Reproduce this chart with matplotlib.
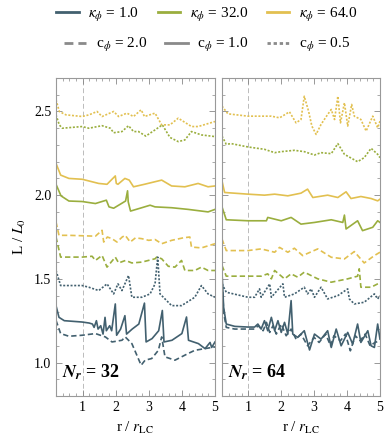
import matplotlib
matplotlib.use('Agg')
import matplotlib.pyplot as plt
from matplotlib.lines import Line2D
from matplotlib.ticker import MultipleLocator

plt.rcParams['font.family'] = ['Liberation Serif', 'DejaVu Serif']
plt.rcParams['mathtext.fontset'] = 'stix'

# colours for kappa_phi
c_k1 = '#42606f'
c_k32 = '#9aae3e'
c_k64 = '#e2c050'

# ---------------- N_r = 32 (left panel) ----------------
r32_k64_c05 = [0.2, 0.3, 0.5, 0.99, 1.2, 1.44, 1.59, 1.94, 2.09, 2.34, 2.54, 2.77, 2.87, 3.19, 3.39, 3.64, 3.89, 4.29, 4.49, 5.0]
L32_k64_c05 = [2.57, 2.50, 2.48, 2.47, 2.48, 2.50, 2.47, 2.50, 2.47, 2.49, 2.47, 2.51, 2.47, 2.49, 2.42, 2.42, 2.46, 2.41, 2.41, 2.44]

r32_k32_c05 = [0.2, 0.3, 0.39, 0.99, 1.19, 1.59, 1.84, 1.94, 2.19, 2.39, 2.54, 2.69, 2.91, 3.19, 3.41, 3.64, 3.89, 4.09, 4.29, 4.59, 5.0]
L32_k32_c05 = [2.48, 2.42, 2.40, 2.41, 2.40, 2.415, 2.40, 2.373, 2.38, 2.415, 2.38, 2.38, 2.353, 2.39, 2.42, 2.345, 2.32, 2.33, 2.38, 2.36, 2.35]

r32_k64_c1 = [0.2, 0.34, 0.59, 0.99, 1.49, 1.74, 1.99, 2.02, 2.07, 2.28, 2.41, 2.54, 2.87, 3.39, 3.69, 4.09, 4.49, 4.79, 5.0]
L32_k64_c1 = [2.19, 2.12, 2.10, 2.095, 2.07, 2.065, 2.115, 2.07, 2.065, 2.10, 2.09, 2.05, 2.065, 2.09, 2.055, 2.05, 2.07, 2.05, 2.055]

r32_k32_c1 = [0.2, 0.35, 0.59, 0.99, 1.39, 1.72, 1.8, 1.94, 2.3, 2.36, 2.38, 2.45, 2.79, 3.04, 3.19, 3.69, 4.19, 4.79, 5.0]
L32_k32_c1 = [2.065, 1.996, 1.965, 1.962, 1.95, 1.97, 1.93, 1.922, 1.965, 2.026, 1.96, 1.905, 1.925, 1.94, 1.93, 1.925, 1.915, 1.90, 1.915]

r32_k64_c2 = [0.2, 0.29, 0.59, 1.39, 1.59, 1.64, 1.75, 1.89, 2.04, 2.2, 2.29, 2.44, 2.6, 2.79, 3.0, 3.19, 3.39, 3.69, 4.04, 4.24, 4.29, 4.59, 5.0]
L32_k64_c2 = [1.84, 1.76, 1.76, 1.755, 1.79, 1.72, 1.75, 1.74, 1.72, 1.75, 1.76, 1.72, 1.745, 1.74, 1.73, 1.735, 1.71, 1.73, 1.745, 1.75, 1.69, 1.685, 1.71]

r32_k32_c2 = [0.2, 0.34, 0.99, 1.29, 1.39, 1.59, 1.74, 1.99, 2.09, 2.3, 2.49, 2.79, 3.19, 3.24, 3.39, 3.59, 3.79, 3.99, 4.09, 4.39, 4.59, 4.79, 5.0]
L32_k32_c2 = [1.75, 1.63, 1.63, 1.635, 1.61, 1.64, 1.57, 1.63, 1.595, 1.61, 1.595, 1.60, 1.62, 1.63, 1.62, 1.575, 1.57, 1.61, 1.55, 1.55, 1.57, 1.55, 1.55]

r32_k1_c05 = [0.2, 0.34, 0.99, 1.19, 1.49, 1.74, 1.94, 2.07, 2.19, 2.39, 2.49, 2.79, 3.04, 3.19, 3.27, 3.34, 3.69, 3.99, 4.39, 4.59, 4.79, 5.0]
L32_k1_c05 = [1.55, 1.46, 1.46, 1.45, 1.43, 1.47, 1.41, 1.47, 1.43, 1.52, 1.39, 1.39, 1.41, 1.47, 1.63, 1.41, 1.34, 1.34, 1.39, 1.46, 1.41, 1.39]

r32_k1_c1 = [0.2, 0.29, 0.45, 0.99, 1.2, 1.3, 1.35, 1.42, 1.47, 1.55, 1.62, 1.68, 1.72, 1.82, 1.88, 1.99, 2.03, 2.15, 2.28, 2.33,
             2.5, 2.7, 2.87, 2.92, 3.1, 3.3, 3.41, 3.46, 3.7, 4.0, 4.14, 4.2, 4.5, 4.7, 4.85, 4.9, 5.0]
L32_k1_c1 = [1.34, 1.27, 1.25, 1.242, 1.236, 1.23, 1.21, 1.25, 1.20, 1.22, 1.17, 1.27, 1.19, 1.22, 1.19, 1.35, 1.163, 1.20, 1.28, 1.17,
             1.20, 1.23, 1.355, 1.123, 1.143, 1.19, 1.311, 1.123, 1.133, 1.173, 1.272, 1.133, 1.113, 1.083, 1.12, 1.09, 1.123]

r32_k1_c2 = [0.2, 0.34, 0.59, 0.99, 1.39, 1.69, 1.89, 2.19, 2.29, 2.49, 2.64, 2.77, 2.89, 3.09, 3.29, 3.39, 3.49, 3.79, 3.99, 4.19, 4.39, 4.69, 5.0]
L32_k1_c2 = [1.252, 1.173, 1.157, 1.163, 1.173, 1.153, 1.123, 1.133, 1.153, 1.113, 1.044, 0.984, 1.014, 1.024, 1.073, 1.153, 1.034, 1.014, 1.034, 1.054, 1.073, 1.083, 1.093]

# ---------------- N_r = 64 (right panel) ----------------
r64_k64_c05 = [0.2, 0.38, 0.99, 1.7, 1.95, 2.25, 2.45, 2.6, 2.7, 2.83, 2.93, 3.06, 3.21, 3.41, 3.52, 3.62, 3.72, 3.8, 3.92, 4.02, 4.14, 4.22, 4.42, 4.58, 4.78, 4.93, 5.0]
L64_k64_c05 = [2.532, 2.486, 2.472, 2.472, 2.462, 2.498, 2.432, 2.452, 2.591, 2.502, 2.413, 2.363, 2.423, 2.482, 2.512, 2.452, 2.591, 2.432, 2.552, 2.413, 2.542, 2.472, 2.452, 2.383, 2.472, 2.403, 2.442]

r64_k32_c05 = [0.2, 0.33, 0.48, 0.99, 1.49, 1.8, 2.0, 2.4, 2.7, 3.01, 3.21, 3.52, 3.72, 3.92, 4.32, 4.52, 4.73, 4.93, 5.0]
L64_k32_c05 = [2.353, 2.304, 2.308, 2.288, 2.274, 2.254, 2.26, 2.268, 2.26, 2.24, 2.254, 2.248, 2.308, 2.244, 2.20, 2.224, 2.28, 2.244, 2.224]

r64_k64_c1 = [0.2, 0.28, 0.99, 1.49, 1.8, 2.2, 2.6, 2.8, 2.96, 3.41, 3.72, 3.97, 4.12, 4.42, 4.73, 4.93, 5.0]
L64_k64_c1 = [2.085, 2.016, 2.006, 2.0, 2.006, 1.996, 2.012, 2.036, 1.986, 2.0, 1.986, 2.02, 1.98, 1.992, 1.98, 1.966, 1.976]

r64_k32_c1 = [0.2, 0.33, 0.99, 1.55, 1.59, 2.0, 2.3, 2.6, 3.01, 3.52, 3.87, 3.92, 3.97, 4.32, 4.47, 4.78, 4.93, 5.0]
L64_k32_c1 = [1.93, 1.853, 1.847, 1.847, 1.867, 1.847, 1.867, 1.827, 1.837, 1.853, 1.837, 1.881, 1.798, 1.847, 1.788, 1.808, 1.847, 1.837]

r64_k64_c2 = [0.2, 0.33, 0.99, 1.39, 1.8, 1.95, 2.2, 2.4, 2.65, 3.11, 3.52, 3.92, 4.22, 4.52, 4.83, 5.0]
L64_k64_c2 = [1.738, 1.669, 1.669, 1.679, 1.659, 1.688, 1.659, 1.683, 1.639, 1.679, 1.629, 1.619, 1.663, 1.595, 1.639, 1.659]

r64_k32_c2 = [0.2, 0.33, 0.99, 1.39, 1.59, 1.7, 1.8, 2.1, 2.3, 2.5, 2.7, 3.11, 3.52, 4.02, 4.32, 4.37, 4.42, 4.73, 4.93, 5.0]
L64_k32_c2 = [1.58, 1.516, 1.516, 1.516, 1.53, 1.50, 1.55, 1.50, 1.53, 1.51, 1.54, 1.50, 1.48, 1.50, 1.516, 1.56, 1.45, 1.45, 1.47, 1.476]

r64_k1_c05 = [0.2, 0.33, 0.99, 1.19, 1.34, 1.39, 1.65, 1.7, 2.05, 2.1, 2.4, 2.7, 2.8, 2.91, 3.01, 3.21, 3.41, 3.72, 4.02, 4.07, 4.22, 4.52, 4.83, 4.93, 5.0]
L64_k1_c05 = [1.47, 1.42, 1.39, 1.39, 1.44, 1.39, 1.47, 1.39, 1.47, 1.39, 1.41, 1.45, 1.41, 1.44, 1.39, 1.45, 1.38, 1.40, 1.44, 1.38, 1.35, 1.36, 1.41, 1.38, 1.40]

r64_k1_c1 = [0.2, 0.25, 0.33, 0.59, 0.99, 1.19, 1.29, 1.39, 1.49, 1.59, 1.7, 1.8, 1.9, 2.0, 2.1, 2.2, 2.3, 2.35, 2.5, 2.7, 2.86,
             3.01, 3.21, 3.41, 3.52, 3.67, 3.82, 4.02, 4.17, 4.32, 4.42, 4.63, 4.73, 4.83, 4.93, 5.0]
L64_k1_c1 = [1.54, 1.33, 1.23, 1.216, 1.212, 1.212, 1.23, 1.20, 1.25, 1.19, 1.27, 1.19, 1.25, 1.18, 1.24, 1.17, 1.37, 1.17, 1.15, 1.19, 1.075,
             1.17, 1.14, 1.19, 1.09, 1.20, 1.10, 1.18, 1.11, 1.23, 1.12, 1.19, 1.10, 1.09, 1.23, 1.14]

r64_k1_c2 = [0.2, 0.25, 0.33, 0.59, 0.99, 1.19, 1.3, 1.45, 1.55, 1.65, 1.75, 1.85, 2.0, 2.15, 2.3, 2.45, 2.6, 2.8, 3.0, 3.15,
             3.35, 3.5, 3.6, 3.8, 3.95, 4.1, 4.25, 4.4, 4.55, 4.7, 4.85, 5.0]
L64_k1_c2 = [1.52, 1.30, 1.21, 1.20, 1.20, 1.20, 1.22, 1.19, 1.24, 1.18, 1.22, 1.17, 1.23, 1.16, 1.20, 1.14, 1.17, 1.10, 1.15, 1.12,
             1.17, 1.10, 1.16, 1.13, 1.17, 1.07, 1.16, 1.13, 1.17, 1.10, 1.12, 1.13]

kappa_labels = ['1.0', '32.0', '64.0']
c_labels = ['2.0', '1.0', '0.5']

dotted = (0, (1.2, 1.0))
dashed = (0, (3.2, 1.8))
styles = {'2.0': dashed, '1.0': '-', '0.5': dotted}

left_series = [
    (r32_k64_c05, L32_k64_c05, c_k64, '0.5'), (r32_k32_c05, L32_k32_c05, c_k32, '0.5'),
    (r32_k64_c1, L32_k64_c1, c_k64, '1.0'), (r32_k32_c1, L32_k32_c1, c_k32, '1.0'),
    (r32_k64_c2, L32_k64_c2, c_k64, '2.0'), (r32_k32_c2, L32_k32_c2, c_k32, '2.0'),
    (r32_k1_c05, L32_k1_c05, c_k1, '0.5'), (r32_k1_c2, L32_k1_c2, c_k1, '2.0'),
    (r32_k1_c1, L32_k1_c1, c_k1, '1.0'),
]
right_series = [
    (r64_k64_c05, L64_k64_c05, c_k64, '0.5'), (r64_k32_c05, L64_k32_c05, c_k32, '0.5'),
    (r64_k64_c1, L64_k64_c1, c_k64, '1.0'), (r64_k32_c1, L64_k32_c1, c_k32, '1.0'),
    (r64_k64_c2, L64_k64_c2, c_k64, '2.0'), (r64_k32_c2, L64_k32_c2, c_k32, '2.0'),
    (r64_k1_c05, L64_k1_c05, c_k1, '0.5'), (r64_k1_c2, L64_k1_c2, c_k1, '2.0'),
    (r64_k1_c1, L64_k1_c1, c_k1, '1.0'),
]

fig = plt.figure(figsize=(3.9, 4.45), dpi=100)
ax1 = fig.add_axes([0.1436, 0.1101, 0.4077, 0.7146])
ax2 = fig.add_axes([0.5692, 0.1101, 0.4051, 0.7146])

for ax, series, nr in [(ax1, left_series, '32'), (ax2, right_series, '64')]:
    ax.axvline(1.0, color='#bbbbbb', lw=0.7, ls=(0, (5, 3)), zorder=1)
    for r, L, col, c in series:
        ax.plot(r, L, color=col, ls=styles[c], lw=1.2, zorder=2)
    ax.set_xlim(0.2, 5.0)
    ax.set_ylim(0.8, 2.7)
    ax.xaxis.set_major_locator(MultipleLocator(1))
    ax.xaxis.set_minor_locator(MultipleLocator(0.2))
    ax.yaxis.set_major_locator(MultipleLocator(0.5))
    ax.yaxis.set_minor_locator(MultipleLocator(0.1))
    ax.tick_params(which='both', direction='in', top=True, right=True, colors='#888888',
                   labelcolor='black', labelsize=10)
    ax.tick_params(which='major', length=4, width=0.6)
    ax.tick_params(which='minor', length=2, width=0.5)
    for s in ax.spines.values():
        s.set_color('#999999')
        s.set_linewidth(0.8)
    ax.set_xlabel(r'r / $r_{\rm LC}$', fontsize=11, labelpad=4)
    ax.text(0.04, 0.045, r'$\mathbfit{N}_{\mathbfit{r}}$ = ' + nr, transform=ax.transAxes,
            fontsize=13, fontweight='bold', ha='left', va='bottom')

ax1.set_yticks([1.0, 1.5, 2.0, 2.5])
ax1.set_yticklabels(['1.0', '1.5', '2.0', '2.5'])
ax1.set_ylabel(r'L / $L_0$', fontsize=11, labelpad=4)
ax2.tick_params(labelleft=False)

h1 = [Line2D([], [], color=c, lw=2) for c in [c_k1, c_k32, c_k64]]
l1 = [r'$\kappa_\phi$ = ' + k for k in kappa_labels]
h2 = [Line2D([], [], color='#8a8a8a', lw=2, ls=styles[c]) for c in c_labels]
l2 = [r'c$_\phi$ = ' + c for c in c_labels]
fig.legend(h1, l1, loc='center', bbox_to_anchor=(0.53, 0.967), ncol=3, frameon=False,
           fontsize=11, handlelength=1.5, handletextpad=0.6, columnspacing=1.2)
fig.legend(h2, l2, loc='center', bbox_to_anchor=(0.53, 0.898), ncol=3, frameon=False,
           fontsize=11, handlelength=1.5, handletextpad=0.6, columnspacing=1.2)

fig.savefig('out.png', dpi=100)
